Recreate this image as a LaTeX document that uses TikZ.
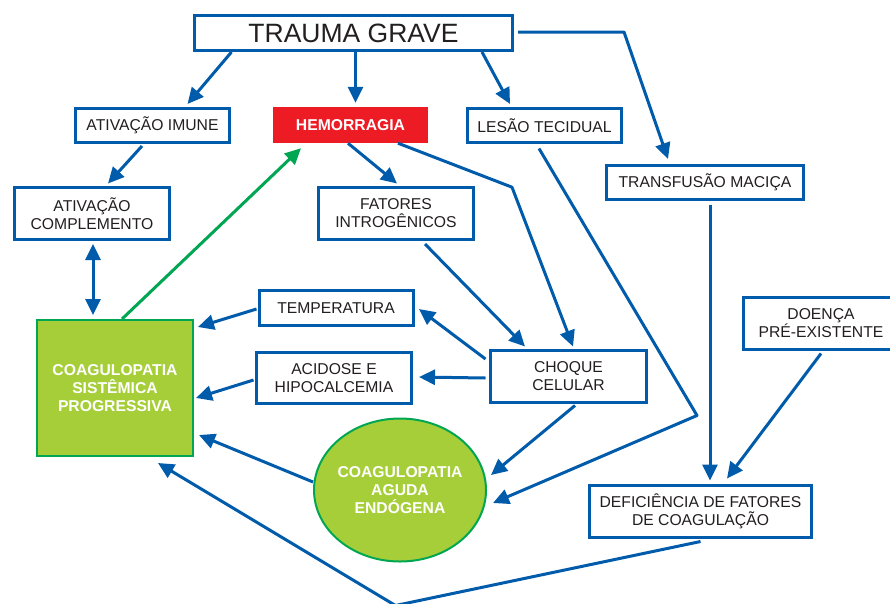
\documentclass[tikz,border=0pt]{standalone}
\usepackage{fontspec}
\setmainfont{Liberation Sans}
\usepackage{tikz}
\usetikzlibrary{arrows.meta,shapes}
\definecolor{azul}{RGB}{0,91,170}
\definecolor{vermelho}{RGB}{237,28,36}
\definecolor{verdeclaro}{RGB}{166,206,57}
\definecolor{verde}{RGB}{0,166,81}
\definecolor{texto}{RGB}{35,31,32}
\begin{document}
\begin{tikzpicture}[x=1pt,y=-1pt,>={Triangle[length=16pt,width=15pt]},
  caixa/.style={draw=azul,line width=3pt,fill=white,text=texto,shape=rectangle,inner sep=0pt,align=center,font=\fontsize{15.7}{18}\selectfont},
  seta/.style={draw=azul,line width=3pt,line join=round,->},
  setaverde/.style={draw=verde,line width=3pt,->}]
\useasboundingbox (0,0) rectangle (890,603);
\node[caixa,minimum width=318pt,minimum height=35pt,font=\fontsize{26.5}{30}\selectfont] (trauma) at (353.5,33) {TRAUMA GRAVE};
\node[caixa,minimum width=154pt,minimum height=34pt] (imune) at (152.5,125.5) {ATIVAÇÃO IMUNE};
\node[fill=vermelho,text=white,shape=rectangle,inner sep=0pt,minimum width=155pt,minimum height=36pt,font=\fontsize{15.7}{18}\selectfont\bfseries] (hemorragia) at (350.5,125) {HEMORRAGIA};
\node[caixa,minimum width=154pt,minimum height=34pt] (lesao) at (544.5,125.5) {LESÃO TECIDUAL};
\node[caixa,minimum width=197pt,minimum height=34pt] (transfusao) at (705,182.5) {TRANSFUSÃO MACIÇA};
\node[caixa,minimum width=155pt,minimum height=52pt] (complemento) at (92,213.5) {ATIVAÇÃO\\COMPLEMENTO};
\node[caixa,minimum width=155pt,minimum height=52pt] (fatores) at (396,213.5) {FATORES\\INTROGÊNICOS};
\node[caixa,minimum width=154pt,minimum height=35pt] (temperatura) at (336,308) {TEMPERATURA};
\node[caixa,minimum width=155pt,minimum height=51pt] (acidose) at (334,378) {ACIDOSE E\\HIPOCALCEMIA};
\node[caixa,minimum width=156pt,minimum height=52pt] (choque) at (568.5,376.5) {CHOQUE\\CELULAR};
\node[caixa,minimum width=155pt,minimum height=52pt] (doenca) at (821,323.5) {DOENÇA\\PRÉ-EXISTENTE};
\node[caixa,minimum width=222pt,minimum height=52pt] (deficiencia) at (700.5,511.5) {DEFICIÊNCIA DE FATORES\\DE COAGULAÇÃO};
\node[draw=verde,line width=2pt,fill=verdeclaro,text=white,shape=rectangle,inner sep=0pt,align=center,minimum width=156pt,minimum height=136pt,font=\fontsize{15.7}{18}\selectfont\bfseries] (sistemica) at (115,388) {COAGULOPATIA\\SISTÊMICA\\PROGRESSIVA};
\node[draw=verde,line width=2pt,fill=verdeclaro,text=white,shape=ellipse,inner sep=-5pt,align=center,minimum width=172pt,minimum height=143pt,font=\fontsize{15.7}{18}\selectfont\bfseries] (aguda) at (400,490) {COAGULOPATIA\\AGUDA\\ENDÓGENA};
\draw[seta] ([xshift=-122pt]trauma.south) -- ([xshift=35pt,yshift=3pt]imune.north);
\draw[seta] ([xshift=2pt]trauma.south) -- ([xshift=5pt,yshift=4pt]hemorragia.north);
\draw[seta] ([xshift=128.5pt]trauma.south) -- ([xshift=-34.5pt,yshift=3pt]lesao.north);
\draw[seta] ([xshift=4pt,yshift=1pt]trauma.east) -- ++(106,0) -- ([xshift=-37pt,yshift=5pt]transfusao.north);
\draw[seta] ([xshift=-10.5pt,yshift=-2pt]imune.south) -- ([xshift=16pt,yshift=2.5pt]complemento.north);
\draw[seta,<->] ([xshift=1pt,yshift=-3pt]complemento.south) -- ([xshift=-22pt,yshift=4pt]sistemica.north);
\draw[setaverde] ([xshift=7pt]sistemica.north) -- ([xshift=-49.5pt,yshift=-5pt]hemorragia.south);
\draw[seta] ([xshift=-2.5pt]hemorragia.south) -- ([xshift=1pt,yshift=2.5pt]fatores.north);
\draw[seta] ([xshift=47.5pt]hemorragia.south) -- ++(114,44) -- ([xshift=4.5pt,yshift=2.5pt]choque.north);
\draw[seta] ([xshift=29pt,yshift=-3pt]fatores.south) -- ([xshift=-43.5pt,yshift=2.5pt]choque.north);
\draw[seta] ([xshift=-3.5pt,yshift=17.5pt]choque.west) -- ([xshift=4.5pt,yshift=-1pt]temperatura.east);
\draw[seta] ([xshift=-3.5pt,yshift=-1.5pt]choque.west) -- ([xshift=6pt,yshift=1pt]acidose.east);
\draw[seta] ([xshift=-1pt,yshift=-1pt]temperatura.west) -- ([xshift=4pt,yshift=61pt]sistemica.east);
\draw[seta] ([xshift=-1.5pt,yshift=-2pt]acidose.west) -- ([xshift=2pt,yshift=-10pt]sistemica.east);
\draw[seta] ([yshift=8pt]aguda.west) -- ([xshift=5pt,yshift=-47pt]sistemica.east);
\draw[seta] ([xshift=6.5pt,yshift=-1.5pt]choque.south) -- ([xshift=4pt,yshift=15pt]aguda.east);
\draw[seta] ([xshift=-5.5pt,yshift=-4.5pt]lesao.south) -- ++(158,267) -- ([xshift=6pt,yshift=-13pt]aguda.east);
\draw[seta] ([xshift=5pt,yshift=-3.5pt]transfusao.south) -- ([xshift=9.5pt,yshift=3.5pt]deficiencia.north);
\draw[seta] ([yshift=-2.5pt]doenca.south) -- ([xshift=26.5pt,yshift=5.5pt]deficiencia.north);
\draw[seta] ([yshift=-2.5pt]deficiencia.south) -- ++(-305,64) -- ([xshift=43pt,yshift=-6pt]sistemica.south);
\end{tikzpicture}
\end{document}
